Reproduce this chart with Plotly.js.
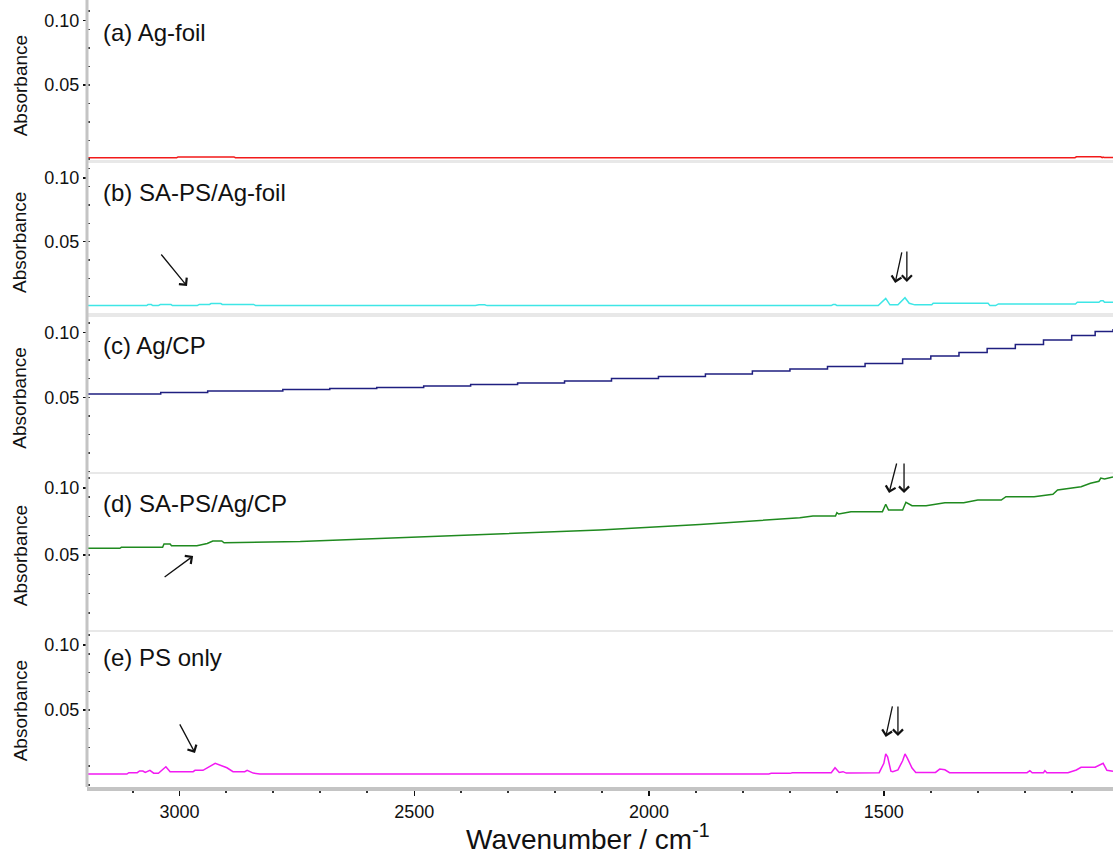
<!DOCTYPE html>
<html>
<head>
<meta charset="utf-8">
<script src="https://cdn.plot.ly/plotly-3.0.1.min.js"></script>
<style>html,body{margin:0;padding:0;background:#fff;}#chart{width:1113px;height:855px;}</style>
</head>
<body>
<div id="chart"></div>
<script>
// ---- data ----
const panelLabels = ["(a) Ag-foil", "(b) SA-PS/Ag-foil", "(c) Ag/CP", "(d) SA-PS/Ag/CP", "(e) PS only"];
const yTickVals = [0.05, 0.10];
const yTickText = ["0.05", "0.10"];

// (a) Ag-foil
const aWn  = [3197, 3006, 3003, 2944, 2941, 2931, 2928, 2884, 2881, 1682, 1680, 1676, 1093, 1090, 1038, 1035, 1033, 1031, 1012];
const aAbs = [-0.0065, -0.0065, -0.0059, -0.0059, -0.0064, -0.0064, -0.0059, -0.0059, -0.0065, -0.0065, -0.0062, -0.0065, -0.0065, -0.0058, -0.0058, -0.0064, -0.0060, -0.0064, -0.0064];

// (b) SA-PS/Ag-foil
const bWn  = [3197, 3070, 3067, 3060, 3057, 3045, 3041, 3018, 3015, 2962, 2958, 2936, 2933, 2912, 2909, 2842, 2838, 2370, 2362, 2350, 2345, 1790, 1785, 1760, 1755, 1612, 1608, 1603, 1600, 1512, 1496, 1487, 1470, 1455, 1446, 1434, 1398, 1395, 1278, 1274, 1262, 1256, 1092, 1088, 1042, 1038, 1033, 1030, 1012];
const bAbs = [-0.0002, -0.0002, 0.0006, 0.0006, -0.0002, -0.0002, 0.0006, 0.0006, -0.0002, -0.0002, 0.0007, 0.0007, 0.0014, 0.0014, 0.0007, 0.0007, -0.0002, -0.0002, 0.0004, 0.0004, -0.0002, -0.0002, -0.0007, -0.0007, -0.0002, -0.0002, 0.0006, 0.0006, -0.0002, -0.0002, 0.0055, 0.0004, 0.0004, 0.0060, 0.0016, 0.0004, 0.0004, 0.0016, 0.0016, -0.0002, -0.0002, 0.0011, 0.0011, 0.0024, 0.0024, 0.0037, 0.0037, 0.0024, 0.0024];

// (c) Ag/CP
const cWn  = [3197, 3040, 2940, 2780, 2680, 2580, 2480, 2380, 2280, 2180, 2080, 1980, 1880, 1780, 1700, 1620, 1540, 1460, 1400, 1340, 1280, 1220, 1160, 1100, 1050, 1012];
const cAbs = [0.0526, 0.0538, 0.0549, 0.0561, 0.0569, 0.0576, 0.0588, 0.0600, 0.0611, 0.0627, 0.0646, 0.0662, 0.0681, 0.0704, 0.0720, 0.0739, 0.0762, 0.0797, 0.0820, 0.0847, 0.0878, 0.0909, 0.0944, 0.0979, 0.1010, 0.1029];

// (d) SA-PS/Ag/CP
const dWn  = [3197, 3127, 3124, 3036, 3033, 3020, 3017, 2963, 2941, 2929, 2910, 2905, 2743, 2530, 2318, 2105, 1892, 1679, 1651, 1603, 1600, 1596, 1570, 1503, 1496, 1490, 1460, 1453, 1440, 1410, 1370, 1330, 1300, 1250, 1240, 1180, 1140, 1130, 1080, 1060, 1042, 1038, 1030, 1012];
const dAbs = [0.0550, 0.0550, 0.0557, 0.0557, 0.0582, 0.0582, 0.0569, 0.0569, 0.0586, 0.0604, 0.0604, 0.0591, 0.0600, 0.0627, 0.0656, 0.0686, 0.0727, 0.0778, 0.0791, 0.0791, 0.0815, 0.0805, 0.0823, 0.0823, 0.0878, 0.0835, 0.0835, 0.0893, 0.0867, 0.0867, 0.0890, 0.0890, 0.0910, 0.0910, 0.0935, 0.0935, 0.0953, 0.0985, 0.1009, 0.1035, 0.1050, 0.1074, 0.1067, 0.1082];

// (e) PS only
const eWn  = [3197, 3112, 3108, 3090, 3085, 3078, 3073, 3063, 3055, 3045, 3029, 3020, 2971, 2967, 2950, 2924, 2899, 2886, 2861, 2856, 2843, 2829, 1745, 1740, 1700, 1695, 1612, 1604, 1595, 1587, 1580, 1545, 1510, 1500, 1496, 1492, 1485, 1481, 1470, 1460, 1455, 1450, 1440, 1432, 1390, 1381, 1370, 1360, 1195, 1189, 1184, 1160, 1157, 1153, 1108, 1090, 1080, 1050, 1033, 1025, 1012];
const eAbs = [0.0008, 0.0008, 0.0018, 0.0018, 0.0031, 0.0031, 0.0020, 0.0036, 0.0014, 0.0014, 0.0064, 0.0026, 0.0026, 0.0036, 0.0036, 0.0090, 0.0056, 0.0026, 0.0026, 0.0036, 0.0015, 0.0008, 0.0008, 0.0013, 0.0013, 0.0018, 0.0018, 0.0056, 0.0020, 0.0026, 0.0015, 0.0018, 0.0018, 0.0090, 0.0162, 0.0140, 0.0030, 0.0026, 0.0040, 0.0110, 0.0162, 0.0130, 0.0054, 0.0020, 0.0020, 0.0046, 0.0040, 0.0018, 0.0018, 0.0034, 0.0018, 0.0018, 0.0034, 0.0018, 0.0018, 0.0039, 0.0060, 0.0060, 0.0090, 0.0036, 0.0030];

// ---- styling / layout ----
const FONT = "Liberation Sans, Arial, sans-serif";
const colors = ["#f21a1a", "#3ee6e6", "#1f1f80", "#1f8a1f", "#f21af2"];
const series = [[aWn, aAbs], [bWn, bAbs], [cWn, cAbs], [dWn, dAbs], [eWn, eAbs]];
const shapesLine = ["linear", "linear", "hv", "linear", "linear"];
const yNames = ["y", "y2", "y3", "y4", "y5"];

const traces = series.map((s, i) => ({
  x: s[0], y: s[1], type: "scatter", mode: "lines",
  xaxis: "x", yaxis: yNames[i],
  line: {color: colors[i], width: 1.5, shape: shapesLine[i]},
  hoverinfo: "skip"
}));

// panel pixel extents (top, bottom) within the 787px-tall plot area
const H = 787;
const panelPx = [[0, 160], [163, 313], [317, 472], [474, 630], [632, 787]];
const ranges = [[-0.0083, 0.1161], [-0.006, 0.1118], [-0.0078, 0.1122], [-0.006, 0.1104], [-0.0092, 0.110]];
const labelShift = [-32, -30, -28, -29, -25];

const layout = {
  width: 1113, height: 855,
  margin: {l: 87, r: 0, t: 0, b: 68},
  paper_bgcolor: "#ffffff", plot_bgcolor: "#ffffff",
  showlegend: false,
  font: {family: FONT, color: "#111"},
  xaxis: {
    range: [3197, 1012], autorange: false, anchor: "y5",
    showline: true, linecolor: "#c4c4c4", linewidth: 4, mirror: false,
    showgrid: false, zeroline: false,
    tickmode: "linear", tick0: 1000, dtick: 500,
    ticks: "outside", ticklen: 5, tickwidth: 1.5, tickcolor: "#111",
    minor: {tickmode: "linear", tick0: 1000, dtick: 100, ticks: "outside", ticklen: 2, tickwidth: 2, tickcolor: "#333"},
    tickfont: {family: FONT, size: 18, color: "#111"}
  },
  shapes: [],
  annotations: []
};

panelPx.forEach((p, i) => {
  const key = i === 0 ? "yaxis" : "yaxis" + (i + 1);
  layout[key] = {
    domain: [(H - p[1]) / H, (H - p[0]) / H],
    range: ranges[i], autorange: false, anchor: "x",
    showline: false, showgrid: false, zeroline: false,
    tickmode: "array", tickvals: yTickVals, ticktext: yTickText,
    ticks: "outside", ticklen: 3, tickwidth: 1.2, tickcolor: "#111",
    minor: {tickmode: "linear", tick0: 0.05, dtick: 0.0144, ticks: "inside", ticklen: 3, tickwidth: 1.5, tickcolor: "#444"},
    tickfont: {family: FONT, size: 18, color: "#111"}
  };
  // panel label
  layout.annotations.push({
    text: panelLabels[i], xref: "paper", x: 0, xshift: 14, xanchor: "left",
    yref: yNames[i] + " domain", y: 1, yanchor: "middle", yshift: labelShift[i],
    showarrow: false, font: {family: FONT, size: 24, color: "#111"}
  });
  // Absorbance label
  layout.annotations.push({
    text: "Absorbance", textangle: -90, xref: "paper", x: 0, xshift: -67, xanchor: "center",
    yref: yNames[i], y: 0.049, yanchor: "middle",
    showarrow: false, font: {family: FONT, size: 19, color: "#111"}
  });
  // separator band below each panel (except last)
  if (i < 4) {
    const next = panelPx[i + 1];
    layout.shapes.push({
      type: "rect", xref: "paper", yref: "paper", layer: "below",
      x0: 0, x1: 1, y0: (H - next[0]) / H, y1: (H - p[1]) / H,
      fillcolor: "#e8e8e8", line: {width: 0}
    });
  }
});

// continuous gray left axis line
layout.shapes.push({
  type: "line", xref: "paper", yref: "paper", x0: 0, x1: 0, y0: 0, y1: 1,
  line: {color: "#c4c4c4", width: 3}
});

// arrows pointing at bands
const arrows = [
  {x: 2984, y: 0.0152, ax: -27, ay: -33, yref: "y2"},
  {x: 1476, y: 0.0176, ax: 7, ay: -32, yref: "y2"},
  {x: 1451, y: 0.0184, ax: 0, ay: -32, yref: "y2"},
  {x: 2971, y: 0.0492, ax: -30, ay: 22, yref: "y4"},
  {x: 1489, y: 0.0962, ax: 8, ay: -31, yref: "y4"},
  {x: 1457, y: 0.0962, ax: 0, ay: -31, yref: "y4"},
  {x: 2967, y: 0.0170, ax: -16, ay: -30, yref: "y5"},
  {x: 1496, y: 0.0293, ax: 7, ay: -32, yref: "y5"},
  {x: 1470, y: 0.0300, ax: 0, ay: -31, yref: "y5"}
];
arrows.forEach(a => layout.annotations.push({
  text: "", x: a.x, y: a.y, xref: "x", yref: a.yref, ax: a.ax, ay: a.ay,
  showarrow: true, arrowhead: 4, arrowsize: 1.5, arrowwidth: 1.3, arrowcolor: "#111"
}));

// x-axis title
layout.annotations.push({
  text: "Wavenumber / cm<sup>-1</sup>", xref: "paper", x: 0.4883, xanchor: "center",
  yref: "paper", y: 0, yshift: -50, yanchor: "middle",
  showarrow: false, font: {family: FONT, size: 28, color: "#111"}
});

Plotly.newPlot("chart", traces, layout, {displayModeBar: false, staticPlot: true});
</script>
</body>
</html>
